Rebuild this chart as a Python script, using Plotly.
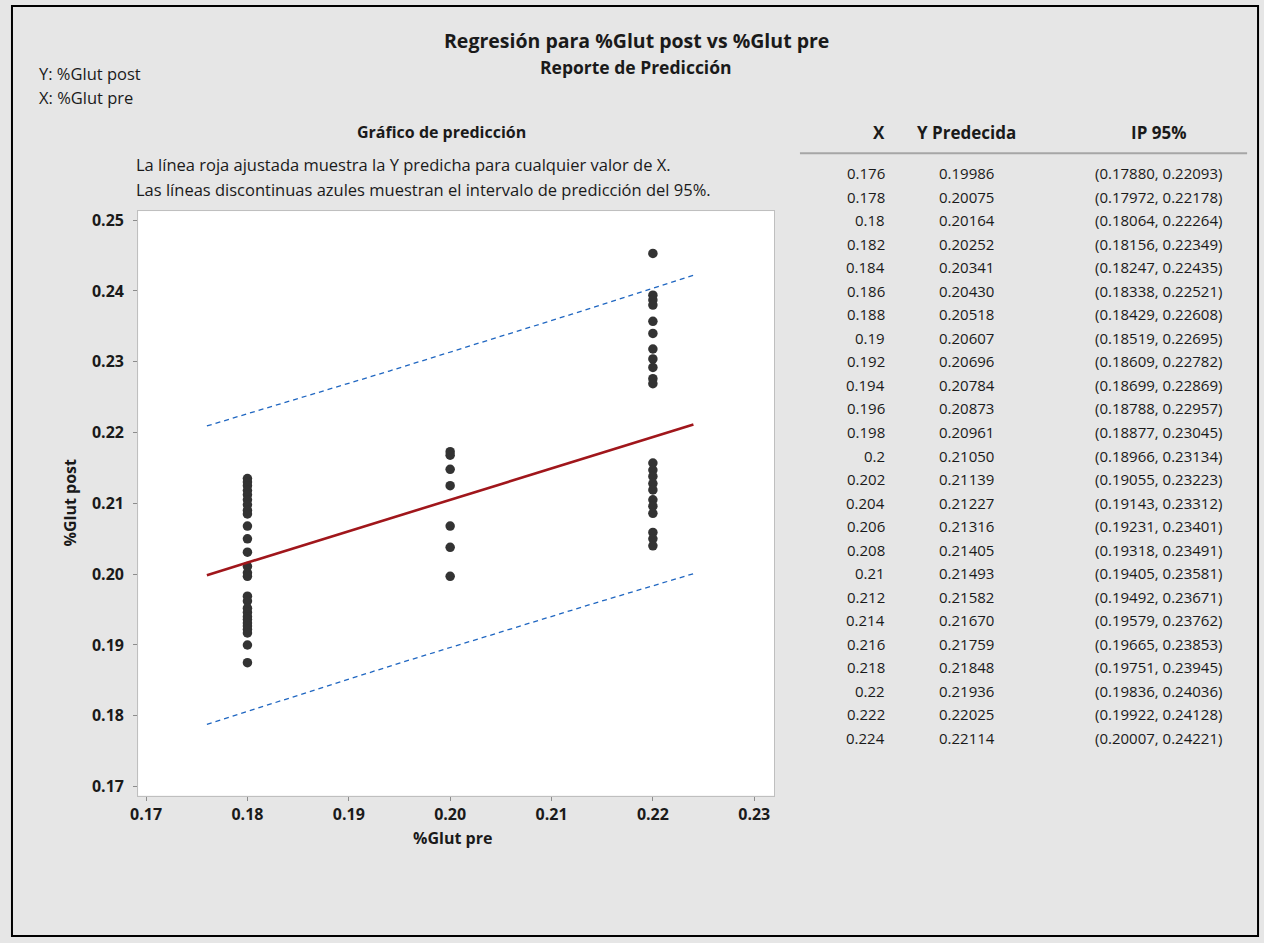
import plotly.graph_objects as go

W, H = 1264, 943

# ---- data ----
x_tab = [0.176, 0.178, 0.18, 0.182, 0.184, 0.186, 0.188, 0.19, 0.192, 0.194, 0.196, 0.198,
         0.2, 0.202, 0.204, 0.206, 0.208, 0.21, 0.212, 0.214, 0.216, 0.218, 0.22, 0.222, 0.224]
y_pred = [0.19986, 0.20075, 0.20164, 0.20252, 0.20341, 0.20430, 0.20518, 0.20607, 0.20696,
          0.20784, 0.20873, 0.20961, 0.21050, 0.21139, 0.21227, 0.21316, 0.21405, 0.21493,
          0.21582, 0.21670, 0.21759, 0.21848, 0.21936, 0.22025, 0.22114]
pi_lo = [0.17880, 0.17972, 0.18064, 0.18156, 0.18247, 0.18338, 0.18429, 0.18519, 0.18609,
         0.18699, 0.18788, 0.18877, 0.18966, 0.19055, 0.19143, 0.19231, 0.19318, 0.19405,
         0.19492, 0.19579, 0.19665, 0.19751, 0.19836, 0.19922, 0.20007]
pi_hi = [0.22093, 0.22178, 0.22264, 0.22349, 0.22435, 0.22521, 0.22608, 0.22695, 0.22782,
         0.22869, 0.22957, 0.23045, 0.23134, 0.23223, 0.23312, 0.23401, 0.23491, 0.23581,
         0.23671, 0.23762, 0.23853, 0.23945, 0.24036, 0.24128, 0.24221]

post_at_018 = [0.2135, 0.2130, 0.2125, 0.2118, 0.2112, 0.2105, 0.2098, 0.2090, 0.2085, 0.2068,
               0.2050, 0.2031, 0.2011, 0.2002, 0.1997, 0.1969, 0.1962, 0.1952, 0.1946, 0.1940,
               0.1936, 0.1931, 0.1927, 0.1922, 0.1917, 0.1900, 0.1875]
post_at_020 = [0.2173, 0.2168, 0.2148, 0.2125, 0.2068, 0.2038, 0.1997]
post_at_022 = [0.2453, 0.2394, 0.2387, 0.2380, 0.2357, 0.2340, 0.2318, 0.2304, 0.2292, 0.2276,
               0.2269, 0.2157, 0.2147, 0.2138, 0.2128, 0.2119, 0.2105, 0.2096, 0.2086, 0.2059,
               0.2050, 0.2040]

x_ticks = [0.17, 0.18, 0.19, 0.20, 0.21, 0.22, 0.23]
y_ticks = [0.17, 0.18, 0.19, 0.20, 0.21, 0.22, 0.23, 0.24, 0.25]

FONT = "Open Sans"


def px(x):
    return x / W


def py(y):
    return 1 - y / H


pre_x = [0.18] * len(post_at_018) + [0.20] * len(post_at_020) + [0.22] * len(post_at_022)
post_y = post_at_018 + post_at_020 + post_at_022

fig = go.Figure()
fig.add_trace(go.Scatter(x=x_tab, y=pi_hi, mode="lines",
                         line=dict(color="#1F66C1", width=1.3, dash="5px,4px"), hoverinfo="skip"))
fig.add_trace(go.Scatter(x=x_tab, y=pi_lo, mode="lines",
                         line=dict(color="#1F66C1", width=1.3, dash="5px,4px"), hoverinfo="skip"))
fig.add_trace(go.Scatter(x=pre_x, y=post_y, mode="markers",
                         marker=dict(color="#333333", size=9.5)))
fig.add_trace(go.Scatter(x=x_tab, y=y_pred, mode="lines",
                         line=dict(color="#A0161B", width=2.6)))

annots = []


def txt(x, y, s, size=15, bold=False, xanchor="center", color="#1A1A1A", angle=0):
    annots.append(dict(x=px(x), y=py(y), xref="paper", yref="paper", text=s, showarrow=False,
                       xanchor=xanchor, yanchor="middle", textangle=angle, borderpad=0,
                       font=dict(family=FONT, size=size, color=color,
                                 weight="bold" if bold else "normal")))


txt(632, 39, "Regresión para %Glut post vs %Glut pre", size=19.5, bold=True)
txt(632, 65, "Reporte de Predicción", size=17.5, bold=True)
txt(30, 72, "Y: %Glut post", size=16.5, xanchor="left")
txt(30, 96, "X: %Glut pre", size=16.5, xanchor="left")
txt(436, 131, "Gráfico de predicción", size=16, bold=True)
txt(128, 163, "La línea roja ajustada muestra la Y predicha para cualquier valor de X.", size=16.5, xanchor="left")
txt(128, 188, "Las líneas discontinuas azules muestran el intervalo de predicción del 95%.", size=16.5, xanchor="left")
txt(447, 840, "%Glut pre", size=16, bold=True)
txt(62, 503, "%Glut post", size=16, bold=True, angle=-90)

# table
txt(884, 131, "X", size=17, bold=True, xanchor="right")
txt(965, 131, "Y Predecida", size=17, bold=True)
txt(1158, 131, "IP 95%", size=17, bold=True)
row0, dy = 172, 23.62
for i in range(len(x_tab)):
    yy = row0 + i * dy
    txt(884, yy, f"{x_tab[i]:g}", size=15, xanchor="right")
    txt(965, yy, f"{y_pred[i]:.5f}", size=15)
    txt(1158, yy, f"({pi_lo[i]:.5f}, {pi_hi[i]:.5f})", size=15)

shapes = [
    dict(type="rect", xref="paper", yref="paper", x0=px(4), x1=px(1258), y0=py(938), y1=py(4),
         line=dict(color="black", width=2), fillcolor="rgba(0,0,0,0)", layer="above"),
    dict(type="line", xref="paper", yref="paper", x0=px(797), x1=px(1247), y0=py(152), y1=py(152),
         line=dict(color="#A6A6A6", width=2)),
]

axis_common = dict(showgrid=False, zeroline=False, showline=True, mirror=True,
                   linecolor="#BFBFBF", linewidth=1, ticks="outside", ticklen=4,
                   tickcolor="#8C8C8C", tickfont=dict(family=FONT, size=16, color="#1A1A1A", weight="bold"))

fig.update_layout(
    width=W, height=H, margin=dict(l=0, r=0, t=0, b=0),
    paper_bgcolor="#E6E6E6", plot_bgcolor="white", showlegend=False,
    xaxis=dict(domain=[px(131), px(771)], range=[0.16922, 0.23196], tickvals=x_ticks,
               ticktext=[f"{v:.2f}" for v in x_ticks], **axis_common),
    yaxis=dict(domain=[py(797), py(210)], range=[0.16873, 0.25127], tickvals=y_ticks,
               ticktext=[f"{v:.2f}" for v in y_ticks], ticklabelstandoff=6, **axis_common),
    annotations=annots, shapes=shapes,
)

fig.write_html("out.html")
